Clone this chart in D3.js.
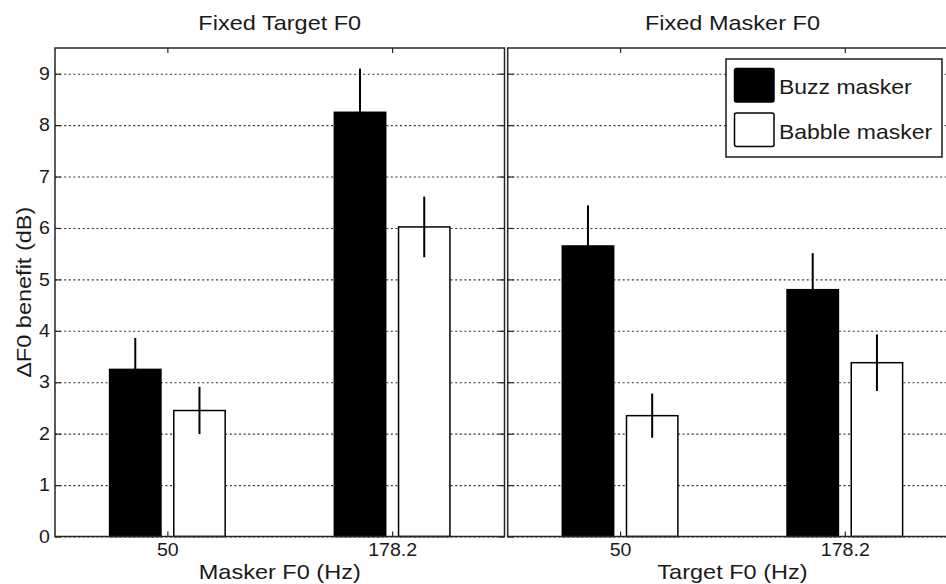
<!DOCTYPE html>
<html>
<head>
<meta charset="utf-8">
<script src="https://cdn.jsdelivr.net/npm/d3@7"></script>
<style>
  html, body { margin: 0; padding: 0; background: #fff; }
  svg { display: block; }
  text { font-family: "Liberation Sans", Arial, Helvetica, sans-serif; fill: #1a1a1a; }
</style>
</head>
<body>
<svg id="chart" width="946" height="584"></svg>
<script>
// Category labels along each x axis (F0 in Hz)
const categories = ["50", "178.2"];
const panelTitles = ["Fixed Target F0", "Fixed Masker F0"];
const xAxisLabels = ["Masker F0 (Hz)", "Target F0 (Hz)"];
const seriesNames = ["Buzz masker", "Babble masker"];
const yTicks = [0, 1, 2, 3, 4, 5, 6, 7, 8, 9];

// Mean ΔF0 benefit (dB) and error half-widths, fixed target F0 panel
const buzzFixedTarget = [3.25, 8.25];
const buzzFixedTargetErr = [0.61, 0.85];
const babbleFixedTarget = [2.45, 6.02];
const babbleFixedTargetErr = [0.46, 0.59];

// Mean ΔF0 benefit (dB) and error half-widths, fixed masker F0 panel
const buzzFixedMasker = [5.65, 4.80];
const buzzFixedMaskerErr = [0.79, 0.71];
const babbleFixedMasker = [2.35, 3.38];
const babbleFixedMaskerErr = [0.43, 0.55];

const panels = [
  { title: panelTitles[0], xlabel: xAxisLabels[0],
    series: [{ values: buzzFixedTarget, err: buzzFixedTargetErr, fill: "#000" },
             { values: babbleFixedTarget, err: babbleFixedTargetErr, fill: "#fff" }] },
  { title: panelTitles[1], xlabel: xAxisLabels[1],
    series: [{ values: buzzFixedMasker, err: buzzFixedMaskerErr, fill: "#000" },
             { values: babbleFixedMasker, err: babbleFixedMaskerErr, fill: "#fff" }] }
];

const svg = d3.select("#chart");
const plotTop = 48, plotBottom = 536.5;
const panelLeft = [55, 507.7];
const panelWidth = 449.5;
const axisColor = "#262626";
const labelSize = 21, labelStretch = 1.12;
const tickSize = 17.5, tickStretch = 1.12;

const y = d3.scaleLinear().domain([0, 9.5]).range([plotBottom, plotTop]);

// grouped bars: two series per category
const groupWidth = 2 / 3.5;
const barWidth = groupWidth / 2 * 0.8;
const offsets = [-groupWidth / 4, groupWidth / 4];

// slightly widened text placed at (px, py)
function wideText(parent, px, py, str, size, stretch, anchor, rotate) {
  return parent.append("text")
    .attr("transform", `translate(${px},${py})${rotate ? ` rotate(${rotate})` : ""} scale(${stretch},1)`)
    .attr("text-anchor", anchor).attr("font-size", size).text(str);
}

panels.forEach((p, pi) => {
  const x0 = panelLeft[pi];
  const x = d3.scaleLinear().domain([0.5, 2.5]).range([x0, x0 + panelWidth]);
  const g = svg.append("g");

  // white axes background
  g.append("rect").attr("x", x0).attr("y", plotTop)
    .attr("width", panelWidth).attr("height", plotBottom - plotTop).attr("fill", "#fff");

  // dotted horizontal grid
  g.append("g")
    .attr("transform", `translate(${x0},0)`)
    .call(d3.axisLeft(y).tickValues(yTicks).tickSize(-panelWidth).tickFormat(""))
    .call(a => a.select(".domain").remove())
    .call(a => a.selectAll("line").attr("stroke", "#333").attr("stroke-width", 1.1)
      .attr("stroke-dasharray", "2,2.6"));

  // bars
  p.series.forEach((s, si) => {
    const w = x(1 + barWidth) - x(1);
    g.selectAll(null).data(s.values).join("rect")
      .attr("x", (d, i) => x(i + 1 + offsets[si]) - w / 2)
      .attr("y", d => y(d))
      .attr("width", w)
      .attr("height", d => y(0) - y(d))
      .attr("fill", s.fill)
      .attr("stroke", "#000")
      .attr("stroke-width", 1.5);
  });

  // error bars (no caps)
  p.series.forEach((s, si) => {
    g.selectAll(null).data(s.values).join("line")
      .attr("x1", (d, i) => x(i + 1 + offsets[si]))
      .attr("x2", (d, i) => x(i + 1 + offsets[si]))
      .attr("y1", (d, i) => y(d - s.err[i]))
      .attr("y2", (d, i) => y(d + s.err[i]))
      .attr("stroke", "#000")
      .attr("stroke-width", 2);
  });

  // axes with inward ticks on all four sides
  const styleAxis = a => {
    a.select(".domain").remove();
    a.selectAll("line").attr("stroke", axisColor).attr("stroke-width", 1.2);
  };
  const tickFmt = d => categories[d - 1];
  g.append("g").attr("transform", `translate(0,${plotBottom})`)
    .call(d3.axisBottom(x).tickValues([1, 2]).tickSize(-5).tickPadding(7.5).tickFormat(tickFmt))
    .call(styleAxis)
    .call(a => a.selectAll("text").attr("font-size", tickSize).attr("fill", "#1a1a1a")
      .attr("transform", `scale(${tickStretch},1)`)
      .attr("font-family", "Liberation Sans, Arial, sans-serif"));
  g.append("g").attr("transform", `translate(0,${plotTop})`)
    .call(d3.axisTop(x).tickValues([1, 2]).tickSize(-5).tickFormat(""))
    .call(styleAxis);
  g.append("g").attr("transform", `translate(${x0},0)`)
    .call(d3.axisLeft(y).tickValues(yTicks).tickSize(-6).tickPadding(5)
      .tickFormat(pi === 0 ? d3.format("d") : ""))
    .call(styleAxis)
    .call(a => a.selectAll("text").attr("font-size", tickSize).attr("fill", "#1a1a1a")
      .attr("x", -4.5).attr("transform", `scale(${tickStretch},1)`)
      .attr("font-family", "Liberation Sans, Arial, sans-serif"));
  g.append("g").attr("transform", `translate(${x0 + panelWidth},0)`)
    .call(d3.axisRight(y).tickValues(yTicks).tickSize(-6).tickFormat(""))
    .call(styleAxis);

  // axes box
  g.append("rect").attr("x", x0).attr("y", plotTop)
    .attr("width", panelWidth).attr("height", plotBottom - plotTop)
    .attr("fill", "none").attr("stroke", axisColor).attr("stroke-width", 1.5);

  // title and x label
  wideText(g, x0 + panelWidth / 2, 30, p.title, labelSize, labelStretch, "middle");
  wideText(g, x0 + panelWidth / 2, 579, p.xlabel, labelSize, labelStretch, "middle");
});

// y axis label
wideText(svg, 31, (plotTop + plotBottom) / 2, "\u0394F0 benefit (dB)",
  labelSize, labelStretch, "middle", -90);

// legend in the upper right of the second panel
const legend = svg.append("g");
legend.append("rect").attr("x", 726).attr("y", 59).attr("width", 216).attr("height", 98)
  .attr("fill", "#fff").attr("stroke", "#1a1a1a").attr("stroke-width", 1.5);
const legendFills = ["#000", "#fff"];
seriesNames.forEach((name, i) => {
  const yy = 68.5 + i * 44.5;
  legend.append("rect").attr("x", 734.5).attr("y", yy).attr("width", 39.5).attr("height", 33.5)
    .attr("rx", 2).attr("fill", legendFills[i]).attr("stroke", "#000").attr("stroke-width", 1.5);
  wideText(legend, 779, yy + 25.5, name, 20.5, 1.12, "start");
});
</script>
</body>
</html>
